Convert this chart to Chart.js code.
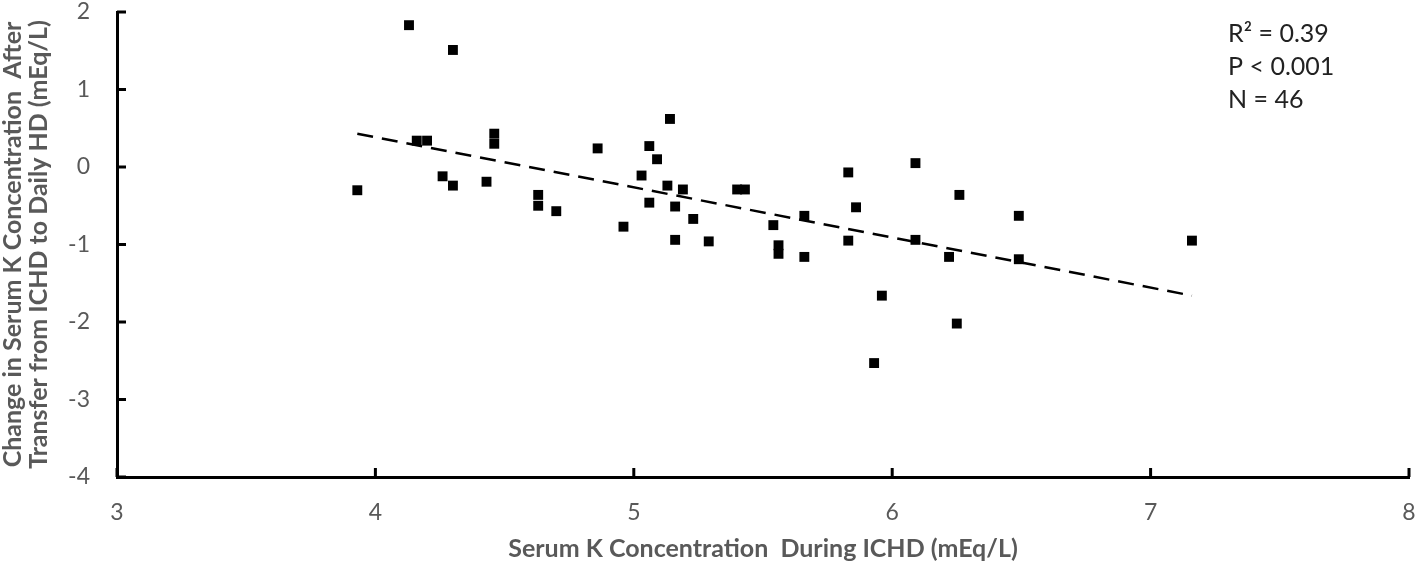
<!DOCTYPE html>
<html>
<head>
<meta charset="utf-8">
<title>Serum K change after transfer to daily HD</title>
<script src="https://cdn.jsdelivr.net/npm/chart.js@4"></script>
<style>
  html, body { margin: 0; padding: 0; background: #ffffff; }
  canvas { display: block; }
</style>
</head>
<body>
<canvas id="kChart" width="1418" height="569"></canvas>
<script>

// serum K during ICHD (mEq/L), one entry per patient
const kIchd = [
  3.93, 4.13, 4.30, 4.16, 4.20, 4.26, 4.30, 4.46, 4.46, 4.43,
  4.63, 4.63, 4.70, 4.86, 5.14, 5.06, 5.09, 5.03, 5.13, 5.19,
  5.06, 5.16, 5.23, 4.96, 5.16, 5.29, 5.40, 5.43, 5.54, 5.56,
  5.56, 5.66, 5.66, 5.83, 5.86, 5.83, 5.96, 6.09, 6.09, 6.26,
  6.22, 6.25, 6.49, 6.49, 7.16, 5.93
];

// change in serum K after transfer to daily HD (mEq/L)
const kChange = [
  -0.30, 1.83, 1.51, 0.34, 0.34, -0.12, -0.24, 0.43, 0.30, -0.19,
  -0.36, -0.50, -0.57, 0.24, 0.62, 0.27, 0.10, -0.11, -0.24, -0.29,
  -0.46, -0.51, -0.67, -0.77, -0.94, -0.96, -0.29, -0.29, -0.75, -1.01,
  -1.12, -0.63, -1.16, -0.07, -0.52, -0.95, -1.66, 0.05, -0.94, -0.36,
  -1.16, -2.02, -0.63, -1.19, -0.95, -2.53
];

// fitted line, end points as drawn
const trendX = [3.93, 7.16];
const trendY = [0.43, -1.66];

const statsLines = ["R\u00B2 = 0.39", "P < 0.001", "N = 46"];

const xTitle = "Serum K Concentration  During ICHD (mEq/L)";
const yTitle = [
  "Change in Serum K Concentration  After",
  "Transfer from ICHD to Daily HD (mEq/L)"
];

const FONT = "Lato, 'Liberation Sans', sans-serif";
const GREY = "#595959";

// inward tick marks on both axes
const innerTicks = {
  id: "innerTicks",
  afterDraw(chart) {
    const ctx = chart.ctx;
    const area = chart.chartArea;
    const xs = chart.scales.x;
    const ys = chart.scales.y;
    ctx.save();
    ctx.strokeStyle = "#000";
    ctx.lineWidth = 3;
    ctx.beginPath();
    xs.ticks.forEach(t => {
      const px = xs.getPixelForValue(t.value);
      ctx.moveTo(px, area.bottom);
      ctx.lineTo(px, area.bottom - 9);
    });
    ys.ticks.forEach(t => {
      const py = ys.getPixelForValue(t.value);
      ctx.moveTo(area.left, py);
      ctx.lineTo(area.left + 9, py);
    });
    ctx.stroke();
    ctx.restore();
  }
};

// R2 / P / N box, top right
const statsText = {
  id: "statsText",
  afterDraw(chart) {
    const ctx = chart.ctx;
    const xs = chart.scales.x;
    const ys = chart.scales.y;
    const left = xs.getPixelForValue(7.3);
    const top = ys.getPixelForValue(1.72);
    ctx.save();
    ctx.fillStyle = "#222";
    ctx.font = "25px " + FONT;
    ctx.textBaseline = "middle";
    ctx.textAlign = "left";
    statsLines.forEach((line, i) => {
      ctx.fillText(line, left, top + i * 33);
    });
    ctx.restore();
  }
};

function createChart() {

  const points = kIchd.map((x, i) => ({ x: x, y: kChange[i] }));
  const trend = trendX.map((x, i) => ({ x: x, y: trendY[i] }));

  new Chart(
    document.getElementById("kChart"),
    {
      type: "scatter",
      data: {
        datasets: [
          {
            type: "line",
            label: "Fit",
            data: trend,
            borderColor: "#000",
            borderWidth: 2.5,
            borderDash: [16, 9],
            pointRadius: 0,
            fill: false
          },
          {
            label: "Patients",
            data: points,
            pointStyle: "rect",
            pointRadius: 7,
            pointBackgroundColor: "#000",
            pointBorderWidth: 0,
            borderColor: "#000"
          }
        ]
      },
      options: {
        responsive: false,
        animation: false,
        layout: {
          padding: 0
        },
        plugins: {
          legend: { display: false },
          tooltip: { enabled: false }
        },
        scales: {
          x: {
            type: "linear",
            min: 3,
            max: 8,
            // pin the plot box: tick padding would otherwise widen the margins
            afterFit: s => {
              s.height = 92;
              s.paddingLeft = 0;
              s.paddingRight = 9;
            },
            ticks: {
              stepSize: 1,
              color: GREY,
              padding: 22,
              font: { family: FONT, size: 23 }
            },
            grid: { display: false, drawTicks: false },
            border: { display: true, color: "#000", width: 3 },
            title: {
              display: true,
              text: xTitle,
              color: GREY,
              padding: { top: 0, bottom: 7 },
              font: { family: FONT, size: 25, weight: "bold", lineHeight: 1.05 }
            }
          },
          y: {
            type: "linear",
            min: -4,
            max: 2,
            afterFit: s => {
              s.width = 117;
              s.paddingTop = 12;
              s.paddingBottom = 0;
            },
            ticks: {
              stepSize: 1,
              color: GREY,
              padding: 27,
              font: { family: FONT, size: 23 }
            },
            grid: { display: false, drawTicks: false },
            border: { display: true, color: "#000", width: 3 },
            title: {
              display: true,
              text: yTitle,
              color: GREY,
              padding: { top: 0, bottom: 0 },
              font: { family: FONT, size: 25, weight: "bold", lineHeight: 1.05 }
            }
          }
        }
      },
      plugins: [innerTicks, statsText]
    }
  );

}

createChart();

</script>
</body>
</html>
